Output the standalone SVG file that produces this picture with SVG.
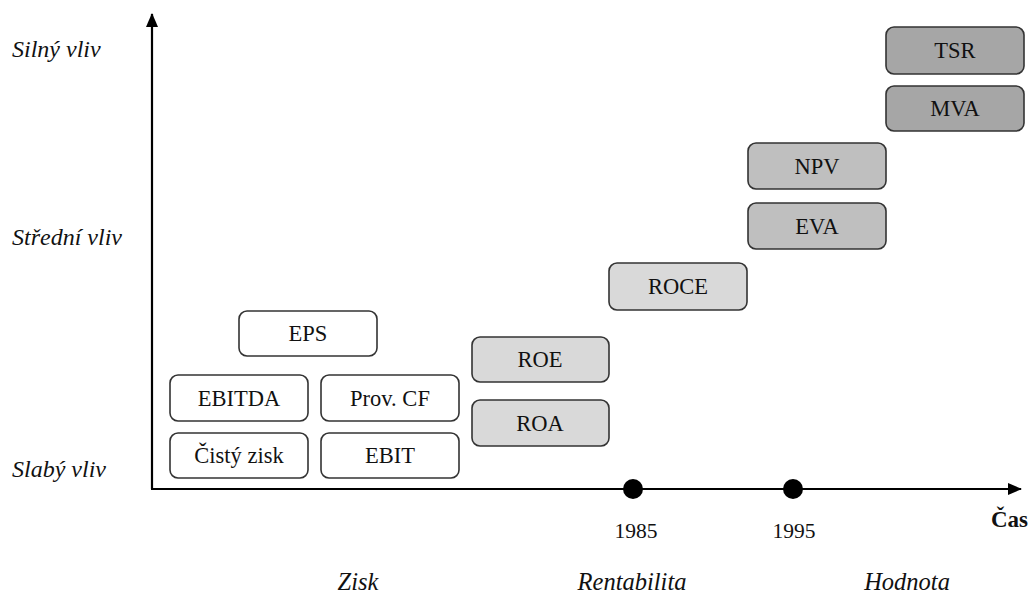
<svg xmlns="http://www.w3.org/2000/svg" width="1029" height="595" viewBox="0 0 1029 595">
  <style>
    text { font-family: "Liberation Serif", "Times New Roman", "DejaVu Serif", serif; fill: #111; }
    .box { stroke: #333; stroke-width: 1.6; }
    .lvl0 { fill: #ffffff; }
    .lvl1 { fill: #d9d9d9; }
    .lvl2 { fill: #bfbfbf; }
    .lvl3 { fill: #a6a6a6; }
    .lbl { font-size: 22.5px; text-anchor: middle; }
    .ax { font-size: 24px; font-style: italic; }
    .yr { font-size: 21.5px; text-anchor: middle; }
    .cat { font-size: 24.5px; font-style: italic; text-anchor: middle; }
    .unit { font-size: 23px; font-weight: bold; text-anchor: end; }
  </style>
  <defs>
    <marker id="arr" markerWidth="14" markerHeight="12" refX="13" refY="6" orient="auto" markerUnits="userSpaceOnUse">
      <path d="M0,0 L14,6 L0,12 Z" fill="#000"/>
    </marker>
  </defs>
  <rect width="1029" height="595" fill="#fff"/>

  <!-- axes and time markers -->
  <g id="connectors">
    <line x1="152" y1="489" x2="152" y2="14" stroke="#000" stroke-width="2.2" marker-end="url(#arr)"/>
    <line x1="151" y1="489" x2="1021" y2="489" stroke="#000" stroke-width="2.2" marker-end="url(#arr)"/>
    <circle cx="633" cy="489" r="10" fill="#000"/>
    <circle cx="793" cy="489" r="10" fill="#000"/>
  </g>

  <!-- axis labels -->
  <text class="ax" x="12" y="57">Silný vliv</text>
  <text class="ax" x="12" y="245">Střední vliv</text>
  <text class="ax" x="12" y="477">Slabý vliv</text>
  <text class="yr" x="636" y="538">1985</text>
  <text class="yr" x="794" y="538">1995</text>
  <text class="unit" x="1028" y="527">Čas</text>
  <text class="cat" x="358" y="590">Zisk</text>
  <text class="cat" x="632" y="590">Rentabilita</text>
  <text class="cat" x="907" y="590">Hodnota</text>

  <!-- profit metrics -->
  <g id="eps"><rect class="box lvl0" x="239" y="311" width="138" height="45" rx="8"/><text class="lbl" x="308" y="341">EPS</text></g>
  <g id="ebitda"><rect class="box lvl0" x="170" y="375" width="138" height="46" rx="8"/><text class="lbl" x="239" y="406">EBITDA</text></g>
  <g id="provcf"><rect class="box lvl0" x="321" y="375" width="138" height="46" rx="8"/><text class="lbl" x="390" y="406">Prov. CF</text></g>
  <g id="cistyzisk"><rect class="box lvl0" x="170" y="433" width="138" height="45" rx="8"/><text class="lbl" x="239" y="463">Čistý zisk</text></g>
  <g id="ebit"><rect class="box lvl0" x="321" y="433" width="138" height="45" rx="8"/><text class="lbl" x="390" y="463">EBIT</text></g>

  <!-- profitability metrics -->
  <g id="roe"><rect class="box lvl1" x="472" y="337" width="137" height="45" rx="8"/><text class="lbl" x="540" y="367">ROE</text></g>
  <g id="roa"><rect class="box lvl1" x="472" y="400" width="137" height="46" rx="8"/><text class="lbl" x="540" y="431">ROA</text></g>
  <g id="roce"><rect class="box lvl1" x="609" y="263" width="138" height="47" rx="8"/><text class="lbl" x="678" y="294">ROCE</text></g>

  <!-- value metrics -->
  <g id="npv"><rect class="box lvl2" x="748" y="143" width="138" height="46" rx="8"/><text class="lbl" x="817" y="174">NPV</text></g>
  <g id="eva"><rect class="box lvl2" x="748" y="203" width="138" height="46" rx="8"/><text class="lbl" x="817" y="234">EVA</text></g>
  <g id="tsr"><rect class="box lvl3" x="886" y="27" width="138" height="47" rx="8"/><text class="lbl" x="955" y="58">TSR</text></g>
  <g id="mva"><rect class="box lvl3" x="886" y="86" width="138" height="45" rx="8"/><text class="lbl" x="955" y="116">MVA</text></g>
</svg>
